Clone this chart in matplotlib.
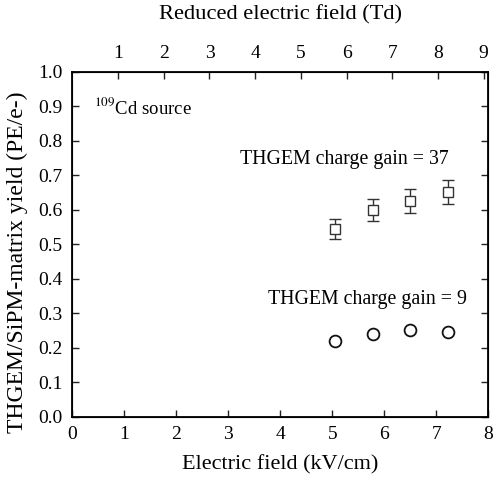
import matplotlib
matplotlib.use("Agg")
import matplotlib.pyplot as plt
import numpy as np

plt.rcParams["font.family"] = ["Liberation Serif", "DejaVu Serif"]
plt.rcParams["mathtext.fontset"] = "stix"

# electric field (kV/cm)
field_37 = [5.05, 5.78, 6.49, 7.22]
yield_37 = [0.545, 0.600, 0.626, 0.651]
err_37 = [0.029, 0.033, 0.034, 0.035]

field_9 = [5.05, 5.78, 6.49, 7.22]
yield_9 = [0.220, 0.240, 0.252, 0.245]
err_9 = [0.008, 0.008, 0.008, 0.008]

td_per_kv = 9.1 / 8.0   # reduced field conversion for the top axis

fig = plt.figure(figsize=(4.98, 4.80), dpi=100)
ax = fig.add_axes([72.3 / 498, 1 - 416.7 / 480, 416 / 498, (416.7 - 72) / 480])

ax.errorbar(field_37, yield_37, yerr=err_37, fmt="s", mfc="white", mec="#333333",
            ecolor="#333333", ms=7.2, mew=1.0, elinewidth=1.0, capsize=4, capthick=1.0)
ax.errorbar(field_9, yield_9, yerr=err_9, fmt="o", mfc="white", mec="#111111",
            ecolor="#111111", ms=8.5, mew=1.3, elinewidth=1.0, capsize=3, capthick=1.0)

ax.set_xlim(0, 8)
ax.set_ylim(0, 1.0)
ax.set_xticks(np.arange(0, 9, 1))
ax.set_yticks(np.arange(0, 1.01, 0.1))
ax.set_yticklabels([f"{v:.1f}" for v in np.arange(0, 1.01, 0.1)])
ax.tick_params(direction="in", length=5, width=1.0, labelsize=14, right=True,
               pad=7, color="#222222")
ax.set_xlabel("Electric field (kV/cm)", fontsize=16)
ax.xaxis.set_label_coords(0.5, (416.7 - 465) / 344.7)
ax.xaxis.label.set_va("center")
ax.set_ylabel("THGEM/SiPM-matrix yield (PE/e-)", fontsize=17)
ax.yaxis.set_label_coords((17 - 72.3) / 416, (416.7 - 262) / 344.7)
ax.yaxis.label.set_va("center")
for sp in ax.spines.values():
    sp.set_linewidth(1.3)

top = ax.twiny()
top.set_xlim(0, 8 * td_per_kv)
top.set_xticks(np.arange(1, 10, 1))
top.tick_params(direction="in", length=5, width=1.0, labelsize=14, pad=7,
                color="#222222")
top.set_xlabel("Reduced electric field (Td)", fontsize=16.2)
top.xaxis.set_label_coords(0.5, (416.7 - 15) / 344.7)
top.xaxis.label.set_va("center")

ax.text(0.42, 0.898, r"$^{109}$Cd source", fontsize=13.5, va="center")
ax.text(3.22, 0.745, "THGEM charge gain = 37", fontsize=14.3, va="center")
ax.text(3.76, 0.341, "THGEM charge gain = 9", fontsize=14.3, va="center")

fig.savefig("out.png", dpi=100)
